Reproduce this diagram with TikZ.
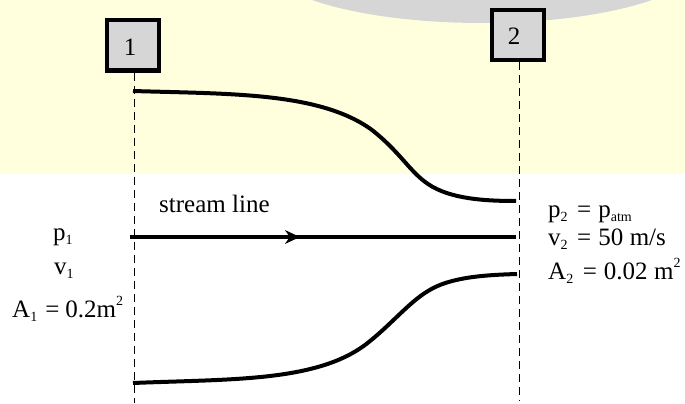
\documentclass[tikz,border=0pt]{standalone}
\usepackage{fontspec}
\setmainfont{Liberation Serif}
\usetikzlibrary{arrows.meta,decorations.markings}
\definecolor{bgy}{HTML}{FFFFDD}
\definecolor{gry}{HTML}{D6D6D6}
\newcommand{\sbs}[1]{\raisebox{-4pt}{\fontsize{14}{14}\selectfont #1}}
\newcommand{\sps}[1]{\raisebox{11.5pt}{\fontsize{14}{14}\selectfont #1}}
\newcommand{\eqs}{\hspace{8pt}=\hspace{6pt}}
\newcommand{\eqr}{\hspace{9.5pt}=\hspace{7pt}}
\tikzset{
  x=1pt,y=-1pt,
  secbox/.style={draw=black,line width=4pt,fill=gry,minimum width=52pt,minimum height=50pt,inner sep=0pt},
  digit/.style={inner sep=0pt,anchor=base,font=\fontsize{25}{25}\selectfont},
  lbl/.style={inner sep=0pt,anchor=base west,font=\fontsize{25}{25}\selectfont},
  secline/.style={line width=1.8pt,dash pattern=on 8pt off 5pt},
  wall/.style={line width=4pt,line cap=butt},
  stream/.style={line width=4pt,postaction={decorate},decoration={markings,mark=at position 0.44 with {\arrow[line width=1pt]{Stealth[length=15pt,width=14pt,inset=5pt]}}}}
}
\begin{document}
\begin{tikzpicture}
\useasboundingbox (0,0) rectangle (685,404);
\fill[bgy] (0,0) rectangle (685,174);
\begin{scope}
\clip (0,0) rectangle (685,174);
\fill[gry] (482,-40) ellipse [x radius=220,y radius=63];
\end{scope}
\node[secbox] (b1) at (133,45.5) {};
\node[secbox] (b2) at (518,35) {};
\node[digit] (n1) at (130,56) {1};
\node[digit] (n2) at (514,45) {2};
\coordinate (d1) at (134.5,403);
\coordinate (d2) at (519.5,401);
\draw[secline] (b1.south -| d1) -- (d1);
\draw[secline] (b2.south -| d2) -- (d2);
\coordinate (t0) at (133,91);
\coordinate (t1) at (516,201);
\coordinate (b0) at (133,383);
\coordinate (b3) at (517,274);
\coordinate (s0) at (130,237);
\coordinate (s1) at (516,237);
\draw[wall] (t0) .. controls (230,94) and (320,92) .. (372,130)
  .. controls (400,152) and (410,172) .. (428,184)
  .. controls (450,199) and (485,201) .. (t1);
\draw[wall] (b0) .. controls (230,379) and (315,382) .. (365,345)
  .. controls (390,326) and (408,303) .. (428,291)
  .. controls (450,277) and (485,275) .. (b3);
\draw[stream] (s0) -- (s1);
\node[lbl] (sl) at (159,212) {stream line};
\node[lbl] (p1) at (53,240) {p\sbs{1}};
\node[lbl] (v1) at (54,274) {v\sbs{1}};
\node[lbl] (a1) at (12,317) {A\sbs{1}\eqs 0.2m\sps{2}};
\node[lbl] (p2) at (548,217) {p\sbs{2}\eqr p\sbs{atm}};
\node[lbl] (v2) at (548,245) {v\sbs{2}\eqr 50\hspace{6.5pt}m/s};
\node[lbl] (a2) at (548,279) {A\sbs{2}\eqr 0.02\hspace{6.5pt}m\sps{2}};
\end{tikzpicture}
\end{document}
